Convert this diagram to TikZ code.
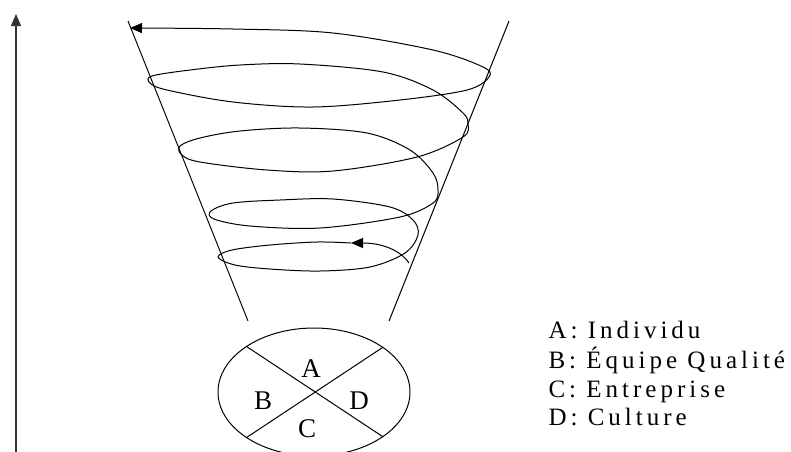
\documentclass[tikz,border=0pt]{standalone}
\usepackage{fontspec}
\setmainfont{Liberation Serif}
\usetikzlibrary{shapes.geometric,arrows.meta}
\begin{document}
\begin{tikzpicture}[x=1pt,y=-1pt,line width=1pt,
  lbl/.style={inner sep=0pt,font=\fontsize{27}{32}\selectfont},
  legend/.style={inner sep=0pt,anchor=base west,font=\fontsize{25}{30}\selectfont\addfontfeatures{LetterSpace=16}},
  tip/.style={-{Triangle[length=12pt,width=10pt]}}]
\useasboundingbox (0,0) rectangle (791,451);
% vertical axis
\coordinate (axb) at (16,452);
\coordinate (axt) at (16,14);
\draw[tip,line width=1.2pt,black!80] (axb) -- (axt);
% cone
\coordinate (cl1) at (128,21);
\coordinate (cl2) at (248,321);
\coordinate (cr1) at (509,21);
\coordinate (cr2) at (389,321);
\draw (cl1) -- (cl2);
\draw (cr1) -- (cr2);
% spiral start with arrow
\coordinate (s0) at (409,263);
\coordinate (s1) at (351,243);
\draw[tip] (s0) .. controls (400,250) and (382,243) .. (s1);
\draw[tip] plot[smooth,tension=0.55] coordinates {
 (351,243) (317,242) (270,245) (232,250) (218,257) (235,265) (270,269) (320,271) (370,267) (405,253) (418,235) (413,220) (390,207) (333,199) (280,200) (233,203) (211,211) (214,219) (250,226) (320,228) (400,217) (433,203) (438,190) (433,173) (410,150) (367,133) (300,128) (240,131) (200,138) (180,146) (182,155) (200,162) (267,170) (333,171) (417,157) (463,137) (468,124) (463,113) (433,90) (383,72) (300,64) (240,65) (190,70) (152,76) (150,83) (167,90) (233,102) (313,107) (400,100) (467,90) (489,77) (483,67) (433,50) (333,33) (233,29) (130,28)};
% ellipse with cross
\node[draw,ellipse,inner sep=0pt,minimum width=192pt,minimum height=128pt] (E) at (314,392) {};
\draw (E.146.5) -- (E.-33.5);
\draw (E.33.5) -- (E.-146.5);
\node[lbl] (a) at (311,369) {A};
\node[lbl] (b) at (263,401) {B};
\node[lbl] (d) at (359,401) {D};
\node[lbl] (c) at (307,429) {C};
% legend
\node[legend] (l1) at (548,338) {A: Individu};
\node[legend] (l2) at (548,368) {B: Équipe Qualité};
\node[legend] (l3) at (548,397) {C: Entreprise};
\node[legend] (l4) at (548,425) {D: Culture};
\end{tikzpicture}
\end{document}
